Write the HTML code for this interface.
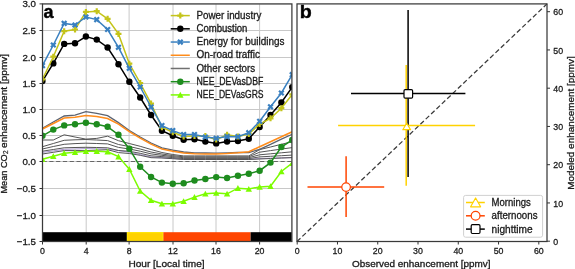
<!DOCTYPE html>
<html><head><meta charset="utf-8"><style>
html,body{margin:0;padding:0;background:#fff;width:575px;height:269px;overflow:hidden}
svg{display:block;will-change:transform}
.t{font-family:"Liberation Sans",sans-serif;font-size:10px;fill:#1a1a1a;stroke:#1a1a1a;stroke-width:0.3px}
.al{font-size:9.3px}
.tk{font-size:9.7px}
.lab{font-family:"Liberation Sans",sans-serif;font-size:18px;font-weight:bold;fill:#000;stroke:#000;stroke-width:0.4px}
</style></head><body>
<svg width="575" height="269" viewBox="0 0 575 269">
<clipPath id="cl"><rect x="42.5" y="3.9" width="249.40" height="237.60"/></clipPath><g clip-path="url(#cl)">
<line x1="42.50" y1="3.9" x2="42.50" y2="241.5" stroke="#c8c8c8" stroke-width="1"/>
<line x1="86.20" y1="3.9" x2="86.20" y2="241.5" stroke="#c8c8c8" stroke-width="1"/>
<line x1="129.10" y1="3.9" x2="129.10" y2="241.5" stroke="#c8c8c8" stroke-width="1"/>
<line x1="173.00" y1="3.9" x2="173.00" y2="241.5" stroke="#c8c8c8" stroke-width="1"/>
<line x1="216.00" y1="3.9" x2="216.00" y2="241.5" stroke="#c8c8c8" stroke-width="1"/>
<line x1="259.60" y1="3.9" x2="259.60" y2="241.5" stroke="#c8c8c8" stroke-width="1"/>
<line x1="42.5" y1="3.90" x2="291.9" y2="3.90" stroke="#c8c8c8" stroke-width="1"/>
<line x1="42.5" y1="30.50" x2="291.9" y2="30.50" stroke="#c8c8c8" stroke-width="1"/>
<line x1="42.5" y1="57.50" x2="291.9" y2="57.50" stroke="#c8c8c8" stroke-width="1"/>
<line x1="42.5" y1="83.50" x2="291.9" y2="83.50" stroke="#c8c8c8" stroke-width="1"/>
<line x1="42.5" y1="109.50" x2="291.9" y2="109.50" stroke="#c8c8c8" stroke-width="1"/>
<line x1="42.5" y1="135.50" x2="291.9" y2="135.50" stroke="#c8c8c8" stroke-width="1"/>
<line x1="42.5" y1="161.50" x2="291.9" y2="161.50" stroke="#c8c8c8" stroke-width="1"/>
<line x1="42.5" y1="188.50" x2="291.9" y2="188.50" stroke="#c8c8c8" stroke-width="1"/>
<line x1="42.5" y1="215.50" x2="291.9" y2="215.50" stroke="#c8c8c8" stroke-width="1"/>
<line x1="42.5" y1="241.50" x2="291.9" y2="241.50" stroke="#c8c8c8" stroke-width="1"/>
<line x1="42.5" y1="161.5" x2="291.9" y2="161.5" stroke="#666" stroke-width="1.1" stroke-dasharray="4.2,2.6"/>
<polyline points="42.45,152.40 53.31,150.90 64.17,149.30 75.03,149.00 85.89,148.60 96.75,148.80 107.61,149.00 118.47,150.60 129.33,152.20 140.19,154.60 151.05,157.00 161.91,157.60 172.77,158.40 183.63,159.20 194.49,159.20 205.35,159.20 216.21,159.20 227.07,159.20 237.93,159.20 248.79,159.20 259.65,158.50 270.51,158.20 281.37,157.90 292.23,157.60" fill="none" stroke="#a08cc8" stroke-width="0.9"/>
<polyline points="42.45,140.00 53.31,140.00 64.17,134.80 75.03,137.00 85.89,139.10 96.75,138.40 107.61,136.20 118.47,140.70 129.33,143.50 140.19,146.30 151.05,149.50 161.91,152.50 172.77,154.50 183.63,155.90 194.49,155.90 205.35,155.90 216.21,155.90 227.07,155.90 237.93,155.90 248.79,155.90 259.65,149.60 270.51,147.00 281.37,144.30 292.23,141.70" fill="none" stroke="#555" stroke-width="1.0"/>
<polyline points="42.45,146.70 53.31,143.50 64.17,140.30 75.03,139.80 85.89,139.50 96.75,140.00 107.61,140.60 118.47,144.50 129.33,146.50 140.19,149.00 151.05,152.00 161.91,154.00 172.77,155.60 183.63,156.80 194.49,156.80 205.35,156.80 216.21,156.80 227.07,156.80 237.93,156.80 248.79,156.80 259.65,152.20 270.51,150.60 281.37,149.10 292.23,147.60" fill="none" stroke="#555" stroke-width="1.0"/>
<polyline points="42.45,149.00 53.31,146.50 64.17,144.30 75.03,143.60 85.89,143.20 96.75,143.50 107.61,143.90 118.47,147.40 129.33,149.00 140.19,151.20 151.05,153.90 161.91,155.30 172.77,156.60 183.63,157.70 194.49,157.70 205.35,157.70 216.21,157.70 227.07,157.70 237.93,157.70 248.79,157.70 259.65,154.80 270.51,153.80 281.37,152.80 292.23,151.80" fill="none" stroke="#555" stroke-width="1.0"/>
<polyline points="42.45,151.20 53.31,149.50 64.17,147.80 75.03,147.50 85.89,147.30 96.75,147.50 107.61,147.80 118.47,150.50 129.33,151.30 140.19,153.30 151.05,155.80 161.91,156.60 172.77,157.60 183.63,158.60 194.49,158.60 205.35,158.60 216.21,158.60 227.07,158.60 237.93,158.60 248.79,158.60 259.65,156.90 270.51,156.30 281.37,155.70 292.23,155.10" fill="none" stroke="#555" stroke-width="1.0"/>
<polyline points="42.45,154.00 53.31,152.30 64.17,150.60 75.03,150.60 85.89,150.60 96.75,150.20 107.61,149.70 118.47,152.60 129.33,153.50 140.19,155.30 151.05,157.70 161.91,158.00 172.77,158.70 183.63,159.50 194.49,159.50 205.35,159.50 216.21,159.50 227.07,159.50 237.93,159.50 248.79,159.50 259.65,159.00 270.51,158.50 281.37,158.00 292.23,157.60" fill="none" stroke="#555" stroke-width="1.0"/>
<polyline points="42.45,128.20 53.31,122.00 64.17,116.00 75.03,115.20 85.89,111.70 96.75,113.30 107.61,115.60 118.47,122.60 129.33,130.50 140.19,137.00 151.05,143.00 161.91,147.90 172.77,150.10 183.63,152.00 194.49,152.80 205.35,153.00 216.21,153.10 227.07,152.80 237.93,152.40 248.79,152.60 259.65,149.30 270.51,144.40 281.37,139.20 292.23,134.30" fill="none" stroke="#5c6370" stroke-width="1.3"/>
<polyline points="42.45,129.00 53.31,123.50 64.17,118.00 75.03,117.20 85.89,115.60 96.75,116.40 107.61,118.50 118.47,124.20 129.33,131.60 140.19,138.20 151.05,144.20 161.91,149.10 172.77,151.20 183.63,153.00 194.49,153.80 205.35,154.00 216.21,154.10 227.07,153.60 237.93,152.80 248.79,151.70 259.65,146.80 270.51,141.80 281.37,136.70 292.23,131.70" fill="none" stroke="#ff8c1a" stroke-width="1.5"/>
<polyline points="42.45,159.30 53.31,156.30 64.17,153.20 75.03,152.30 85.89,151.30 96.75,151.20 107.61,151.70 118.47,156.60 129.33,169.20 140.19,191.00 151.05,200.30 161.91,203.80 172.77,203.80 183.63,201.30 194.49,197.10 205.35,193.80 216.21,193.00 227.07,193.80 237.93,188.20 248.79,189.00 259.65,186.90 270.51,186.30 281.37,171.50 292.23,163.20" fill="none" stroke="#7cfc00" stroke-width="1.5"/>
<path d="M42.45,156.20L45.65,162.10L39.25,162.10z" fill="#7cfc00"/>
<path d="M53.31,153.20L56.51,159.10L50.11,159.10z" fill="#7cfc00"/>
<path d="M64.17,150.10L67.37,156.00L60.97,156.00z" fill="#7cfc00"/>
<path d="M75.03,149.20L78.23,155.10L71.83,155.10z" fill="#7cfc00"/>
<path d="M85.89,148.20L89.09,154.10L82.69,154.10z" fill="#7cfc00"/>
<path d="M96.75,148.10L99.95,154.00L93.55,154.00z" fill="#7cfc00"/>
<path d="M107.61,148.60L110.81,154.50L104.41,154.50z" fill="#7cfc00"/>
<path d="M118.47,153.50L121.67,159.40L115.27,159.40z" fill="#7cfc00"/>
<path d="M129.33,166.10L132.53,172.00L126.13,172.00z" fill="#7cfc00"/>
<path d="M140.19,187.90L143.39,193.80L136.99,193.80z" fill="#7cfc00"/>
<path d="M151.05,197.20L154.25,203.10L147.85,203.10z" fill="#7cfc00"/>
<path d="M161.91,200.70L165.11,206.60L158.71,206.60z" fill="#7cfc00"/>
<path d="M172.77,200.70L175.97,206.60L169.57,206.60z" fill="#7cfc00"/>
<path d="M183.63,198.20L186.83,204.10L180.43,204.10z" fill="#7cfc00"/>
<path d="M194.49,194.00L197.69,199.90L191.29,199.90z" fill="#7cfc00"/>
<path d="M205.35,190.70L208.55,196.60L202.15,196.60z" fill="#7cfc00"/>
<path d="M216.21,189.90L219.41,195.80L213.01,195.80z" fill="#7cfc00"/>
<path d="M227.07,190.70L230.27,196.60L223.87,196.60z" fill="#7cfc00"/>
<path d="M237.93,185.10L241.13,191.00L234.73,191.00z" fill="#7cfc00"/>
<path d="M248.79,185.90L251.99,191.80L245.59,191.80z" fill="#7cfc00"/>
<path d="M259.65,183.80L262.85,189.70L256.45,189.70z" fill="#7cfc00"/>
<path d="M270.51,183.20L273.71,189.10L267.31,189.10z" fill="#7cfc00"/>
<path d="M281.37,168.40L284.57,174.30L278.17,174.30z" fill="#7cfc00"/>
<path d="M292.23,160.10L295.43,166.00L289.03,166.00z" fill="#7cfc00"/>
<polyline points="42.45,135.80 53.31,129.60 64.17,125.40 75.03,124.30 85.89,122.80 96.75,124.30 107.61,126.80 118.47,134.70 129.33,148.70 140.19,166.80 151.05,177.00 161.91,182.60 172.77,183.70 183.63,183.20 194.49,180.50 205.35,179.00 216.21,177.10 227.07,178.00 237.93,175.70 248.79,173.80 259.65,170.70 270.51,162.60 281.37,147.00 292.23,140.00" fill="none" stroke="#1e8c1e" stroke-width="1.5"/>
<circle cx="42.45" cy="135.80" r="3.2" fill="#1e8c1e"/>
<circle cx="53.31" cy="129.60" r="3.2" fill="#1e8c1e"/>
<circle cx="64.17" cy="125.40" r="3.2" fill="#1e8c1e"/>
<circle cx="75.03" cy="124.30" r="3.2" fill="#1e8c1e"/>
<circle cx="85.89" cy="122.80" r="3.2" fill="#1e8c1e"/>
<circle cx="96.75" cy="124.30" r="3.2" fill="#1e8c1e"/>
<circle cx="107.61" cy="126.80" r="3.2" fill="#1e8c1e"/>
<circle cx="118.47" cy="134.70" r="3.2" fill="#1e8c1e"/>
<circle cx="129.33" cy="148.70" r="3.2" fill="#1e8c1e"/>
<circle cx="140.19" cy="166.80" r="3.2" fill="#1e8c1e"/>
<circle cx="151.05" cy="177.00" r="3.2" fill="#1e8c1e"/>
<circle cx="161.91" cy="182.60" r="3.2" fill="#1e8c1e"/>
<circle cx="172.77" cy="183.70" r="3.2" fill="#1e8c1e"/>
<circle cx="183.63" cy="183.20" r="3.2" fill="#1e8c1e"/>
<circle cx="194.49" cy="180.50" r="3.2" fill="#1e8c1e"/>
<circle cx="205.35" cy="179.00" r="3.2" fill="#1e8c1e"/>
<circle cx="216.21" cy="177.10" r="3.2" fill="#1e8c1e"/>
<circle cx="227.07" cy="178.00" r="3.2" fill="#1e8c1e"/>
<circle cx="237.93" cy="175.70" r="3.2" fill="#1e8c1e"/>
<circle cx="248.79" cy="173.80" r="3.2" fill="#1e8c1e"/>
<circle cx="259.65" cy="170.70" r="3.2" fill="#1e8c1e"/>
<circle cx="270.51" cy="162.60" r="3.2" fill="#1e8c1e"/>
<circle cx="281.37" cy="147.00" r="3.2" fill="#1e8c1e"/>
<circle cx="292.23" cy="140.00" r="3.2" fill="#1e8c1e"/>
<polyline points="42.45,81.00 53.31,63.40 64.17,43.90 75.03,43.30 85.89,36.50 96.75,39.60 107.61,47.50 118.47,64.20 129.33,81.80 140.19,97.50 151.05,115.00 161.91,130.70 172.77,135.80 183.63,139.80 194.49,139.30 205.35,141.60 216.21,143.40 227.07,141.50 237.93,141.10 248.79,138.70 259.65,127.00 270.51,114.90 281.37,102.50 292.23,87.10" fill="none" stroke="#000" stroke-width="1.5"/>
<circle cx="42.45" cy="81.00" r="3.2" fill="#000"/>
<circle cx="53.31" cy="63.40" r="3.2" fill="#000"/>
<circle cx="64.17" cy="43.90" r="3.2" fill="#000"/>
<circle cx="75.03" cy="43.30" r="3.2" fill="#000"/>
<circle cx="85.89" cy="36.50" r="3.2" fill="#000"/>
<circle cx="96.75" cy="39.60" r="3.2" fill="#000"/>
<circle cx="107.61" cy="47.50" r="3.2" fill="#000"/>
<circle cx="118.47" cy="64.20" r="3.2" fill="#000"/>
<circle cx="129.33" cy="81.80" r="3.2" fill="#000"/>
<circle cx="140.19" cy="97.50" r="3.2" fill="#000"/>
<circle cx="151.05" cy="115.00" r="3.2" fill="#000"/>
<circle cx="161.91" cy="130.70" r="3.2" fill="#000"/>
<circle cx="172.77" cy="135.80" r="3.2" fill="#000"/>
<circle cx="183.63" cy="139.80" r="3.2" fill="#000"/>
<circle cx="194.49" cy="139.30" r="3.2" fill="#000"/>
<circle cx="205.35" cy="141.60" r="3.2" fill="#000"/>
<circle cx="216.21" cy="143.40" r="3.2" fill="#000"/>
<circle cx="227.07" cy="141.50" r="3.2" fill="#000"/>
<circle cx="237.93" cy="141.10" r="3.2" fill="#000"/>
<circle cx="248.79" cy="138.70" r="3.2" fill="#000"/>
<circle cx="259.65" cy="127.00" r="3.2" fill="#000"/>
<circle cx="270.51" cy="114.90" r="3.2" fill="#000"/>
<circle cx="281.37" cy="102.50" r="3.2" fill="#000"/>
<circle cx="292.23" cy="87.10" r="3.2" fill="#000"/>
<polyline points="42.45,79.30 53.31,56.70 64.17,31.20 75.03,29.50 85.89,11.90 96.75,11.20 107.61,18.80 118.47,33.90 129.33,63.70 140.19,83.00 151.05,103.60 161.91,127.30 172.77,132.20 183.63,136.50 194.49,136.00 205.35,136.00 216.21,139.60 227.07,134.70 237.93,136.50 248.79,134.00 259.65,124.00 270.51,118.30 281.37,108.20 292.23,94.40" fill="none" stroke="#c4c41a" stroke-width="1.5"/>
<path d="M41.35,76.30h2.20v1.90h1.90v2.20h-1.90v1.90h-2.20v-1.90h-1.90v-2.20h1.90z" fill="#c4c41a"/>
<path d="M52.21,53.70h2.20v1.90h1.90v2.20h-1.90v1.90h-2.20v-1.90h-1.90v-2.20h1.90z" fill="#c4c41a"/>
<path d="M63.07,28.20h2.20v1.90h1.90v2.20h-1.90v1.90h-2.20v-1.90h-1.90v-2.20h1.90z" fill="#c4c41a"/>
<path d="M73.93,26.50h2.20v1.90h1.90v2.20h-1.90v1.90h-2.20v-1.90h-1.90v-2.20h1.90z" fill="#c4c41a"/>
<path d="M84.79,8.90h2.20v1.90h1.90v2.20h-1.90v1.90h-2.20v-1.90h-1.90v-2.20h1.90z" fill="#c4c41a"/>
<path d="M95.65,8.20h2.20v1.90h1.90v2.20h-1.90v1.90h-2.20v-1.90h-1.90v-2.20h1.90z" fill="#c4c41a"/>
<path d="M106.51,15.80h2.20v1.90h1.90v2.20h-1.90v1.90h-2.20v-1.90h-1.90v-2.20h1.90z" fill="#c4c41a"/>
<path d="M117.37,30.90h2.20v1.90h1.90v2.20h-1.90v1.90h-2.20v-1.90h-1.90v-2.20h1.90z" fill="#c4c41a"/>
<path d="M128.23,60.70h2.20v1.90h1.90v2.20h-1.90v1.90h-2.20v-1.90h-1.90v-2.20h1.90z" fill="#c4c41a"/>
<path d="M139.09,80.00h2.20v1.90h1.90v2.20h-1.90v1.90h-2.20v-1.90h-1.90v-2.20h1.90z" fill="#c4c41a"/>
<path d="M149.95,100.60h2.20v1.90h1.90v2.20h-1.90v1.90h-2.20v-1.90h-1.90v-2.20h1.90z" fill="#c4c41a"/>
<path d="M160.81,124.30h2.20v1.90h1.90v2.20h-1.90v1.90h-2.20v-1.90h-1.90v-2.20h1.90z" fill="#c4c41a"/>
<path d="M171.67,129.20h2.20v1.90h1.90v2.20h-1.90v1.90h-2.20v-1.90h-1.90v-2.20h1.90z" fill="#c4c41a"/>
<path d="M182.53,133.50h2.20v1.90h1.90v2.20h-1.90v1.90h-2.20v-1.90h-1.90v-2.20h1.90z" fill="#c4c41a"/>
<path d="M193.39,133.00h2.20v1.90h1.90v2.20h-1.90v1.90h-2.20v-1.90h-1.90v-2.20h1.90z" fill="#c4c41a"/>
<path d="M204.25,133.00h2.20v1.90h1.90v2.20h-1.90v1.90h-2.20v-1.90h-1.90v-2.20h1.90z" fill="#c4c41a"/>
<path d="M215.11,136.60h2.20v1.90h1.90v2.20h-1.90v1.90h-2.20v-1.90h-1.90v-2.20h1.90z" fill="#c4c41a"/>
<path d="M225.97,131.70h2.20v1.90h1.90v2.20h-1.90v1.90h-2.20v-1.90h-1.90v-2.20h1.90z" fill="#c4c41a"/>
<path d="M236.83,133.50h2.20v1.90h1.90v2.20h-1.90v1.90h-2.20v-1.90h-1.90v-2.20h1.90z" fill="#c4c41a"/>
<path d="M247.69,131.00h2.20v1.90h1.90v2.20h-1.90v1.90h-2.20v-1.90h-1.90v-2.20h1.90z" fill="#c4c41a"/>
<path d="M258.55,121.00h2.20v1.90h1.90v2.20h-1.90v1.90h-2.20v-1.90h-1.90v-2.20h1.90z" fill="#c4c41a"/>
<path d="M269.41,115.30h2.20v1.90h1.90v2.20h-1.90v1.90h-2.20v-1.90h-1.90v-2.20h1.90z" fill="#c4c41a"/>
<path d="M280.27,105.20h2.20v1.90h1.90v2.20h-1.90v1.90h-2.20v-1.90h-1.90v-2.20h1.90z" fill="#c4c41a"/>
<path d="M291.13,91.40h2.20v1.90h1.90v2.20h-1.90v1.90h-2.20v-1.90h-1.90v-2.20h1.90z" fill="#c4c41a"/>
<polyline points="42.45,65.60 53.31,45.00 64.17,23.40 75.03,25.00 85.89,17.00 96.75,19.60 107.61,29.50 118.47,47.30 129.33,68.30 140.19,87.00 151.05,107.00 161.91,125.60 172.77,130.60 183.63,134.60 194.49,134.60 205.35,137.00 216.21,138.30 227.07,136.60 237.93,136.70 248.79,132.70 259.65,121.30 270.51,106.80 281.37,93.00 292.23,74.70" fill="none" stroke="#3a80c0" stroke-width="1.5"/>
<g transform="translate(42.45,65.60) rotate(45)"><path d="M-1.10,-3.30h2.20v2.20h2.20v2.20h-2.20v2.20h-2.20v-2.20h-2.20v-2.20h2.20z" fill="#3a80c0"/></g>
<g transform="translate(53.31,45.00) rotate(45)"><path d="M-1.10,-3.30h2.20v2.20h2.20v2.20h-2.20v2.20h-2.20v-2.20h-2.20v-2.20h2.20z" fill="#3a80c0"/></g>
<g transform="translate(64.17,23.40) rotate(45)"><path d="M-1.10,-3.30h2.20v2.20h2.20v2.20h-2.20v2.20h-2.20v-2.20h-2.20v-2.20h2.20z" fill="#3a80c0"/></g>
<g transform="translate(75.03,25.00) rotate(45)"><path d="M-1.10,-3.30h2.20v2.20h2.20v2.20h-2.20v2.20h-2.20v-2.20h-2.20v-2.20h2.20z" fill="#3a80c0"/></g>
<g transform="translate(85.89,17.00) rotate(45)"><path d="M-1.10,-3.30h2.20v2.20h2.20v2.20h-2.20v2.20h-2.20v-2.20h-2.20v-2.20h2.20z" fill="#3a80c0"/></g>
<g transform="translate(96.75,19.60) rotate(45)"><path d="M-1.10,-3.30h2.20v2.20h2.20v2.20h-2.20v2.20h-2.20v-2.20h-2.20v-2.20h2.20z" fill="#3a80c0"/></g>
<g transform="translate(107.61,29.50) rotate(45)"><path d="M-1.10,-3.30h2.20v2.20h2.20v2.20h-2.20v2.20h-2.20v-2.20h-2.20v-2.20h2.20z" fill="#3a80c0"/></g>
<g transform="translate(118.47,47.30) rotate(45)"><path d="M-1.10,-3.30h2.20v2.20h2.20v2.20h-2.20v2.20h-2.20v-2.20h-2.20v-2.20h2.20z" fill="#3a80c0"/></g>
<g transform="translate(129.33,68.30) rotate(45)"><path d="M-1.10,-3.30h2.20v2.20h2.20v2.20h-2.20v2.20h-2.20v-2.20h-2.20v-2.20h2.20z" fill="#3a80c0"/></g>
<g transform="translate(140.19,87.00) rotate(45)"><path d="M-1.10,-3.30h2.20v2.20h2.20v2.20h-2.20v2.20h-2.20v-2.20h-2.20v-2.20h2.20z" fill="#3a80c0"/></g>
<g transform="translate(151.05,107.00) rotate(45)"><path d="M-1.10,-3.30h2.20v2.20h2.20v2.20h-2.20v2.20h-2.20v-2.20h-2.20v-2.20h2.20z" fill="#3a80c0"/></g>
<g transform="translate(161.91,125.60) rotate(45)"><path d="M-1.10,-3.30h2.20v2.20h2.20v2.20h-2.20v2.20h-2.20v-2.20h-2.20v-2.20h2.20z" fill="#3a80c0"/></g>
<g transform="translate(172.77,130.60) rotate(45)"><path d="M-1.10,-3.30h2.20v2.20h2.20v2.20h-2.20v2.20h-2.20v-2.20h-2.20v-2.20h2.20z" fill="#3a80c0"/></g>
<g transform="translate(183.63,134.60) rotate(45)"><path d="M-1.10,-3.30h2.20v2.20h2.20v2.20h-2.20v2.20h-2.20v-2.20h-2.20v-2.20h2.20z" fill="#3a80c0"/></g>
<g transform="translate(194.49,134.60) rotate(45)"><path d="M-1.10,-3.30h2.20v2.20h2.20v2.20h-2.20v2.20h-2.20v-2.20h-2.20v-2.20h2.20z" fill="#3a80c0"/></g>
<g transform="translate(205.35,137.00) rotate(45)"><path d="M-1.10,-3.30h2.20v2.20h2.20v2.20h-2.20v2.20h-2.20v-2.20h-2.20v-2.20h2.20z" fill="#3a80c0"/></g>
<g transform="translate(216.21,138.30) rotate(45)"><path d="M-1.10,-3.30h2.20v2.20h2.20v2.20h-2.20v2.20h-2.20v-2.20h-2.20v-2.20h2.20z" fill="#3a80c0"/></g>
<g transform="translate(227.07,136.60) rotate(45)"><path d="M-1.10,-3.30h2.20v2.20h2.20v2.20h-2.20v2.20h-2.20v-2.20h-2.20v-2.20h2.20z" fill="#3a80c0"/></g>
<g transform="translate(237.93,136.70) rotate(45)"><path d="M-1.10,-3.30h2.20v2.20h2.20v2.20h-2.20v2.20h-2.20v-2.20h-2.20v-2.20h2.20z" fill="#3a80c0"/></g>
<g transform="translate(248.79,132.70) rotate(45)"><path d="M-1.10,-3.30h2.20v2.20h2.20v2.20h-2.20v2.20h-2.20v-2.20h-2.20v-2.20h2.20z" fill="#3a80c0"/></g>
<g transform="translate(259.65,121.30) rotate(45)"><path d="M-1.10,-3.30h2.20v2.20h2.20v2.20h-2.20v2.20h-2.20v-2.20h-2.20v-2.20h2.20z" fill="#3a80c0"/></g>
<g transform="translate(270.51,106.80) rotate(45)"><path d="M-1.10,-3.30h2.20v2.20h2.20v2.20h-2.20v2.20h-2.20v-2.20h-2.20v-2.20h2.20z" fill="#3a80c0"/></g>
<g transform="translate(281.37,93.00) rotate(45)"><path d="M-1.10,-3.30h2.20v2.20h2.20v2.20h-2.20v2.20h-2.20v-2.20h-2.20v-2.20h2.20z" fill="#3a80c0"/></g>
<g transform="translate(292.23,74.70) rotate(45)"><path d="M-1.10,-3.30h2.20v2.20h2.20v2.20h-2.20v2.20h-2.20v-2.20h-2.20v-2.20h2.20z" fill="#3a80c0"/></g>
<rect x="42.5" y="232.2" width="84.40" height="9.30" fill="#000"/>
<rect x="126.9" y="232.2" width="36.50" height="9.30" fill="#ffd200"/>
<rect x="127.4" y="232.7" width="35.50" height="8.30" fill="none" stroke="#ffe800" stroke-width="0.9"/>
<rect x="163.4" y="232.2" width="87.20" height="9.30" fill="#ff4500"/>
<rect x="250.6" y="232.2" width="41.30" height="9.30" fill="#000"/>
</g>
<rect x="42.5" y="3.9" width="249.40" height="237.60" fill="none" stroke="#3a3a3a" stroke-width="1.25"/>
<line x1="39.5" y1="3.90" x2="42.5" y2="3.90" stroke="#333" stroke-width="1"/>
<text x="35.90" y="7.40" text-anchor="end" class="t tk" textLength="13.48" lengthAdjust="spacingAndGlyphs">3.0</text>
<line x1="39.5" y1="30.50" x2="42.5" y2="30.50" stroke="#333" stroke-width="1"/>
<text x="35.90" y="34.00" text-anchor="end" class="t tk" textLength="13.48" lengthAdjust="spacingAndGlyphs">2.5</text>
<line x1="39.5" y1="57.50" x2="42.5" y2="57.50" stroke="#333" stroke-width="1"/>
<text x="35.90" y="61.00" text-anchor="end" class="t tk" textLength="13.48" lengthAdjust="spacingAndGlyphs">2.0</text>
<line x1="39.5" y1="83.50" x2="42.5" y2="83.50" stroke="#333" stroke-width="1"/>
<text x="35.90" y="87.00" text-anchor="end" class="t tk" textLength="13.48" lengthAdjust="spacingAndGlyphs">1.5</text>
<line x1="39.5" y1="109.50" x2="42.5" y2="109.50" stroke="#333" stroke-width="1"/>
<text x="35.90" y="113.00" text-anchor="end" class="t tk" textLength="13.48" lengthAdjust="spacingAndGlyphs">1.0</text>
<line x1="39.5" y1="135.50" x2="42.5" y2="135.50" stroke="#333" stroke-width="1"/>
<text x="35.90" y="139.00" text-anchor="end" class="t tk" textLength="13.48" lengthAdjust="spacingAndGlyphs">0.5</text>
<line x1="39.5" y1="161.50" x2="42.5" y2="161.50" stroke="#333" stroke-width="1"/>
<text x="35.90" y="165.00" text-anchor="end" class="t tk" textLength="13.48" lengthAdjust="spacingAndGlyphs">0.0</text>
<line x1="39.5" y1="188.50" x2="42.5" y2="188.50" stroke="#333" stroke-width="1"/>
<text x="35.90" y="192.00" text-anchor="end" class="t tk" textLength="19.15" lengthAdjust="spacingAndGlyphs">−0.5</text>
<line x1="39.5" y1="215.50" x2="42.5" y2="215.50" stroke="#333" stroke-width="1"/>
<text x="35.90" y="219.00" text-anchor="end" class="t tk" textLength="19.15" lengthAdjust="spacingAndGlyphs">−1.0</text>
<line x1="39.5" y1="241.50" x2="42.5" y2="241.50" stroke="#333" stroke-width="1"/>
<text x="35.90" y="245.00" text-anchor="end" class="t tk" textLength="19.15" lengthAdjust="spacingAndGlyphs">−1.5</text>
<line x1="42.50" y1="241.5" x2="42.50" y2="244.5" stroke="#333" stroke-width="1"/>
<text x="42.50" y="254.3" text-anchor="middle" class="t tk" textLength="4.89" lengthAdjust="spacingAndGlyphs">0</text>
<line x1="86.20" y1="241.5" x2="86.20" y2="244.5" stroke="#333" stroke-width="1"/>
<text x="86.20" y="254.3" text-anchor="middle" class="t tk" textLength="4.89" lengthAdjust="spacingAndGlyphs">4</text>
<line x1="129.10" y1="241.5" x2="129.10" y2="244.5" stroke="#333" stroke-width="1"/>
<text x="129.10" y="254.3" text-anchor="middle" class="t tk" textLength="4.89" lengthAdjust="spacingAndGlyphs">8</text>
<line x1="173.00" y1="241.5" x2="173.00" y2="244.5" stroke="#333" stroke-width="1"/>
<text x="173.00" y="254.3" text-anchor="middle" class="t tk" textLength="9.79" lengthAdjust="spacingAndGlyphs">12</text>
<line x1="216.00" y1="241.5" x2="216.00" y2="244.5" stroke="#333" stroke-width="1"/>
<text x="216.00" y="254.3" text-anchor="middle" class="t tk" textLength="9.79" lengthAdjust="spacingAndGlyphs">16</text>
<line x1="259.60" y1="241.5" x2="259.60" y2="244.5" stroke="#333" stroke-width="1"/>
<text x="259.60" y="254.3" text-anchor="middle" class="t tk" textLength="9.79" lengthAdjust="spacingAndGlyphs">20</text>
<text x="128.4" y="267.0" class="t al" textLength="76.20" lengthAdjust="spacingAndGlyphs">Hour [Local time]</text>
<text transform="translate(7.1,193.6) rotate(-90)" class="t al" textLength="39.30" lengthAdjust="spacingAndGlyphs">Mean CO</text>
<text transform="translate(8.3,154.0) rotate(-90)" class="t" style="font-size:6.5px;stroke-width:0.2px">2</text>
<text transform="translate(7.1,147.9) rotate(-90)" class="t al" textLength="94.00" lengthAdjust="spacingAndGlyphs">enhancement [ppmv]</text>
<text x="43.6" y="17.6" class="lab">a</text>
<line x1="170.7" y1="15.60" x2="189.8" y2="15.60" stroke="#c4c41a" stroke-width="1.5"/>
<path d="M179.20,12.60h2.20v1.90h1.90v2.20h-1.90v1.90h-2.20v-1.90h-1.90v-2.20h1.90z" fill="#c4c41a"/>
<text x="196.5" y="18.80" class="t" textLength="64.80" lengthAdjust="spacingAndGlyphs">Power industry</text>
<line x1="170.7" y1="28.82" x2="189.8" y2="28.82" stroke="#000" stroke-width="1.5"/>
<circle cx="180.3" cy="28.82" r="3.2" fill="#000"/>
<text x="196.5" y="32.02" class="t" textLength="50.90" lengthAdjust="spacingAndGlyphs">Combustion</text>
<line x1="170.7" y1="42.04" x2="189.8" y2="42.04" stroke="#3a80c0" stroke-width="1.5"/>
<g transform="translate(180.30,42.04) rotate(45)"><path d="M-1.10,-3.30h2.20v2.20h2.20v2.20h-2.20v2.20h-2.20v-2.20h-2.20v-2.20h2.20z" fill="#3a80c0"/></g>
<text x="196.5" y="45.24" class="t" textLength="88.00" lengthAdjust="spacingAndGlyphs">Energy for buildings</text>
<line x1="170.7" y1="55.26" x2="189.8" y2="55.26" stroke="#ff8c1a" stroke-width="1.5"/>
<text x="196.5" y="58.46" class="t" textLength="63.40" lengthAdjust="spacingAndGlyphs">On-road traffic</text>
<line x1="170.7" y1="68.48" x2="189.8" y2="68.48" stroke="#707070" stroke-width="1.5"/>
<text x="196.5" y="71.68" class="t" textLength="58.70" lengthAdjust="spacingAndGlyphs">Other sectors</text>
<line x1="170.7" y1="81.70" x2="189.8" y2="81.70" stroke="#1e8c1e" stroke-width="1.5"/>
<circle cx="180.3" cy="81.70" r="3.2" fill="#1e8c1e"/>
<text x="196.5" y="84.90" class="t" textLength="66.80" lengthAdjust="spacingAndGlyphs">NEE_DEVasDBF</text>
<line x1="170.7" y1="94.92" x2="189.8" y2="94.92" stroke="#7cfc00" stroke-width="1.5"/>
<path d="M180.30,91.82L183.50,97.72L177.10,97.72z" fill="#7cfc00"/>
<text x="196.5" y="98.12" class="t" textLength="67.10" lengthAdjust="spacingAndGlyphs">NEE_DEVasGRS</text>
<line x1="297.0" y1="241.5" x2="547.0" y2="3.9" stroke="#3a3a3a" stroke-width="1.25" stroke-dasharray="4.8,2.6"/>
<line x1="408.1" y1="9.9" x2="408.1" y2="176.9" stroke="#000" stroke-width="1.5"/>
<line x1="351" y1="93.4" x2="465.4" y2="93.4" stroke="#000" stroke-width="1.5"/>
<line x1="406.2" y1="65" x2="406.2" y2="185.8" stroke="#ffd200" stroke-width="1.5"/>
<line x1="338.1" y1="125.4" x2="475.1" y2="125.4" stroke="#ffd200" stroke-width="1.5"/>
<line x1="346.1" y1="156.3" x2="346.1" y2="216.9" stroke="#ff4500" stroke-width="1.5"/>
<line x1="307.5" y1="187.1" x2="384.2" y2="187.1" stroke="#ff4500" stroke-width="1.5"/>
<rect x="404" y="89.6" width="8.6" height="8.6" rx="1.2" fill="#fff" stroke="#000" stroke-width="1.2"/>
<path d="M406.7,123.3 L410.6,129.7 L402.8,129.7 Z" fill="#fff" stroke="#ffd200" stroke-width="1.2" stroke-linejoin="round"/>
<circle cx="346.1" cy="187.1" r="4.3" fill="#fff" stroke="#ff4500" stroke-width="1.2"/>
<rect x="297.0" y="3.9" width="250.00" height="237.60" fill="none" stroke="#3a3a3a" stroke-width="1.25"/>
<line x1="297.20" y1="241.5" x2="297.20" y2="244.5" stroke="#333" stroke-width="1"/>
<text x="297.20" y="254.3" text-anchor="middle" class="t tk" textLength="4.89" lengthAdjust="spacingAndGlyphs">0</text>
<line x1="547.0" y1="241.20" x2="550.0" y2="241.20" stroke="#333" stroke-width="1"/>
<text x="553.3" y="244.80" class="t tk" textLength="4.89" lengthAdjust="spacingAndGlyphs">0</text>
<line x1="337.47" y1="241.5" x2="337.47" y2="244.5" stroke="#333" stroke-width="1"/>
<text x="337.47" y="254.3" text-anchor="middle" class="t tk" textLength="9.79" lengthAdjust="spacingAndGlyphs">10</text>
<line x1="547.0" y1="202.95" x2="550.0" y2="202.95" stroke="#333" stroke-width="1"/>
<text x="553.3" y="206.55" class="t tk" textLength="9.79" lengthAdjust="spacingAndGlyphs">10</text>
<line x1="377.74" y1="241.5" x2="377.74" y2="244.5" stroke="#333" stroke-width="1"/>
<text x="377.74" y="254.3" text-anchor="middle" class="t tk" textLength="9.79" lengthAdjust="spacingAndGlyphs">20</text>
<line x1="547.0" y1="164.70" x2="550.0" y2="164.70" stroke="#333" stroke-width="1"/>
<text x="553.3" y="168.30" class="t tk" textLength="9.79" lengthAdjust="spacingAndGlyphs">20</text>
<line x1="418.01" y1="241.5" x2="418.01" y2="244.5" stroke="#333" stroke-width="1"/>
<text x="418.01" y="254.3" text-anchor="middle" class="t tk" textLength="9.79" lengthAdjust="spacingAndGlyphs">30</text>
<line x1="547.0" y1="126.45" x2="550.0" y2="126.45" stroke="#333" stroke-width="1"/>
<text x="553.3" y="130.05" class="t tk" textLength="9.79" lengthAdjust="spacingAndGlyphs">30</text>
<line x1="458.28" y1="241.5" x2="458.28" y2="244.5" stroke="#333" stroke-width="1"/>
<text x="458.28" y="254.3" text-anchor="middle" class="t tk" textLength="9.79" lengthAdjust="spacingAndGlyphs">40</text>
<line x1="547.0" y1="88.20" x2="550.0" y2="88.20" stroke="#333" stroke-width="1"/>
<text x="553.3" y="91.80" class="t tk" textLength="9.79" lengthAdjust="spacingAndGlyphs">40</text>
<line x1="498.55" y1="241.5" x2="498.55" y2="244.5" stroke="#333" stroke-width="1"/>
<text x="498.55" y="254.3" text-anchor="middle" class="t tk" textLength="9.79" lengthAdjust="spacingAndGlyphs">50</text>
<line x1="547.0" y1="49.95" x2="550.0" y2="49.95" stroke="#333" stroke-width="1"/>
<text x="553.3" y="53.55" class="t tk" textLength="9.79" lengthAdjust="spacingAndGlyphs">50</text>
<line x1="538.82" y1="241.5" x2="538.82" y2="244.5" stroke="#333" stroke-width="1"/>
<text x="538.82" y="254.3" text-anchor="middle" class="t tk" textLength="9.79" lengthAdjust="spacingAndGlyphs">60</text>
<line x1="547.0" y1="11.70" x2="550.0" y2="11.70" stroke="#333" stroke-width="1"/>
<text x="553.3" y="15.30" class="t tk" textLength="9.79" lengthAdjust="spacingAndGlyphs">60</text>
<text x="352.0" y="267.0" class="t al" textLength="138.50" lengthAdjust="spacingAndGlyphs">Observed enhancement [ppmv]</text>
<text transform="translate(573.9,189.7) rotate(-90)" class="t al" textLength="133.50" lengthAdjust="spacingAndGlyphs">Modeled enhancement [ppmv]</text>
<text x="299.8" y="17.7" class="lab" textLength="12" lengthAdjust="spacingAndGlyphs">b</text>
<rect x="463.6" y="195.4" width="79.0" height="41.8" rx="2" fill="#fff" fill-opacity="0.8" stroke="#d0d0d0" stroke-width="1"/>
<line x1="466.0" y1="202.5" x2="484.8" y2="202.5" stroke="#ffd200" stroke-width="1.5"/>
<path d="M475.6,198.0 L480.6,206.8 L470.6,206.8 Z" fill="#fff" stroke="#ffd200" stroke-width="1.2" stroke-linejoin="round"/>
<text x="491.6" y="206.1" class="t" textLength="39.20" lengthAdjust="spacingAndGlyphs">Mornings</text>
<line x1="466.0" y1="215.8" x2="484.8" y2="215.8" stroke="#ff4500" stroke-width="1.5"/>
<circle cx="475.6" cy="215.8" r="4.4" fill="#fff" stroke="#ff4500" stroke-width="1.2"/>
<text x="491.6" y="219.4" class="t" textLength="45.90" lengthAdjust="spacingAndGlyphs">afternoons</text>
<line x1="466.0" y1="229.1" x2="484.8" y2="229.1" stroke="#000" stroke-width="1.5"/>
<rect x="471.20000000000005" y="224.7" width="8.8" height="8.8" rx="1.2" fill="#fff" stroke="#000" stroke-width="1.2"/>
<text x="491.6" y="232.7" class="t" textLength="41.00" lengthAdjust="spacingAndGlyphs">nighttime</text>
</svg></body></html>
